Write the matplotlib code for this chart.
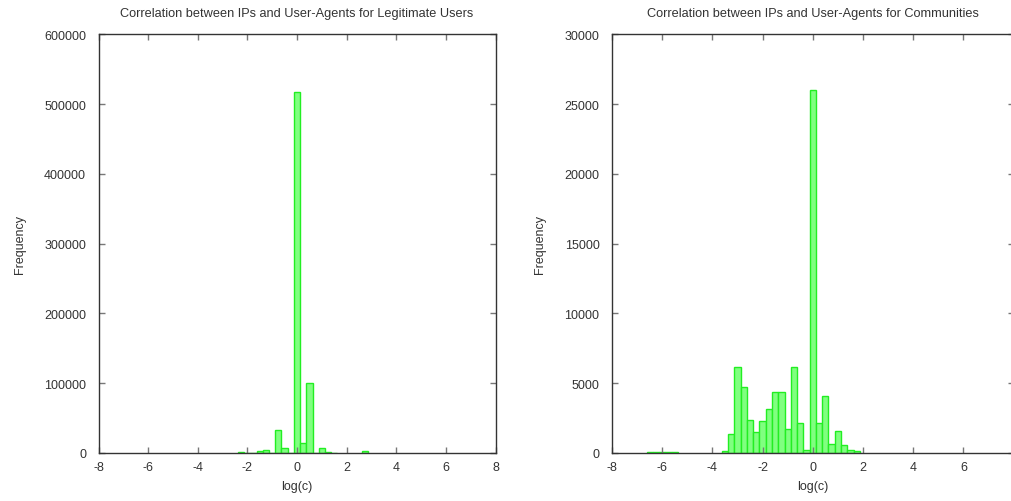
"""Histograms of log(c) for IP / User-Agent correlation."""

import matplotlib
matplotlib.use('Agg')
import matplotlib.pyplot as plt
import matplotlib.ticker as mticker

plt.rcParams['font.family'] = ['Liberation Sans', 'DejaVu Sans']
plt.rcParams['font.size'] = 9
plt.rcParams['axes.unicode_minus'] = False

BIN_WIDTH = 0.25

# Legitimate users: bin centres of log(c) and counts
legit_centers = [-2.25, -2.0, -1.75, -1.5, -1.25, -1.0, -0.75, -0.5, -0.25,
                 0.0, 0.25, 0.5, 0.75, 1.0, 1.25, 1.5, 2.75]
legit_counts = [900, 300, 300, 2400, 4300, 700, 33400, 7000, 300,
                518000, 14000, 100000, 400, 7000, 1500, 200, 2500]

# Communities
comm_centers = [-6.5, -6.25, -6.0, -5.75, -5.5, -3.5, -3.25, -3.0, -2.75,
                -2.5, -2.25, -2.0, -1.75, -1.5, -1.25, -1.0, -0.75, -0.5,
                -0.25, 0.0, 0.25, 0.5, 0.75, 1.0, 1.25, 1.5, 1.75]
comm_counts = [100, 100, 60, 50, 40, 150, 1340, 6140, 4700,
               2340, 1500, 2270, 3130, 4350, 4350, 1700, 6140, 2130,
               215, 26000, 2170, 4060, 620, 1600, 570, 190, 120]

x_ticks = [-8, -6, -4, -2, 0, 2, 4, 6, 8]

FILL = '#80ff80'
EDGE = '#22ee22'
FRAME = '#333333'
TEXT = '#333333'


def draw_hist(ax, centers, counts, title, ymax, ystep):
    ax.bar(centers, counts, width=BIN_WIDTH, color=FILL, edgecolor=EDGE,
           linewidth=1.0, align='center')
    ax.set_xlim(-8, 8)
    ax.set_ylim(0, ymax)
    ax.set_xticks(x_ticks)
    ax.yaxis.set_major_locator(mticker.MultipleLocator(ystep))
    ax.yaxis.set_major_formatter(mticker.FuncFormatter(lambda v, _: f'{v:.0f}'))
    ax.tick_params(direction='in', length=4, width=1, color='#777777',
                   top=True, right=True, labelsize=9, pad=6, labelcolor=TEXT)
    ax.tick_params(axis='y', pad=9)
    for s in ax.spines.values():
        s.set_color(FRAME)
        s.set_linewidth(1)
    ax.set_title(title, fontsize=9.2, color=TEXT, pad=13)
    ax.set_xlabel('log(c)', fontsize=9, color=TEXT, labelpad=5)
    ax.set_ylabel('Frequency', fontsize=9, color=TEXT, labelpad=13)


fig = plt.figure(figsize=(10.11, 5.02), dpi=100)
ax1 = fig.add_axes([98.5 / 1011, 48 / 502, 397 / 1011, 418.7 / 502])
ax2 = fig.add_axes([612 / 1011, 48 / 502, 401.6 / 1011, 418.7 / 502])

draw_hist(ax1, legit_centers, legit_counts,
          'Correlation between IPs and User-Agents for Legitimate Users', 600000, 100000)
draw_hist(ax2, comm_centers, comm_counts,
          'Correlation between IPs and User-Agents for Communities', 30000, 5000)
ax2.set_xticks(x_ticks[:-1])

fig.savefig('out.png', dpi=100)
plt.close(fig)
